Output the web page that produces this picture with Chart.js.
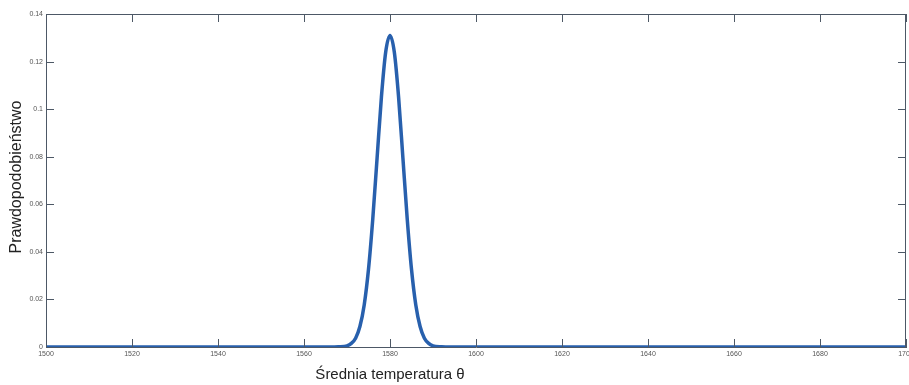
<!DOCTYPE html>
<html><head><meta charset="utf-8">
<script src="https://cdn.jsdelivr.net/npm/chart.js@4/dist/chart.umd.min.js"></script>
<style>html,body{margin:0;padding:0;background:#fff}#wrap{width:909px;height:385px}</style>
</head><body><div id="wrap"><canvas id="c" width="909" height="385"></canvas></div>
<script>
const temperatures = [1500,1520,1540,1560,1566,1568,1570,1571,1572,1573,1574,1575,1576,1577,1578,1579,1580,1581,1582,1583,1584,1585,1586,1587,1588,1589,1590,1592,1594,1600,1620,1640,1660,1680,1700];
const probabilities = [0,0,0,0,0,0.0001,0.0005,0.0015,0.0037,0.0086,0.0177,0.0327,0.054,0.0795,0.105,0.124,0.131,0.124,0.105,0.0795,0.054,0.0327,0.0177,0.0086,0.0037,0.0015,0.0005,0.0001,0,0,0,0,0,0,0];
const xTickValues = [1500,1520,1540,1560,1580,1600,1620,1640,1660,1680,1700];
const yTickValues = [0,0.02,0.04,0.06,0.08,0.1,0.12,0.14];
const xTitle = 'Średnia temperatura θ';
const yTitle = 'Prawdopodobieństwo';

const axisColor = '#4d5866';
const boxPlugin = {
  id: 'box',
  afterDraw(chart) {
    const ctx = chart.ctx, a = chart.chartArea;
    const xs = chart.scales.x, ys = chart.scales.y;
    ctx.save();
    ctx.strokeStyle = axisColor; ctx.lineWidth = 1;
    ctx.beginPath();
    ctx.moveTo(a.left, a.top + 0.5); ctx.lineTo(a.right, a.top + 0.5);
    ctx.moveTo(a.right - 0.5, a.top); ctx.lineTo(a.right - 0.5, a.bottom);
    const L = 8;
    xTickValues.forEach(v => {
      const p = Math.round(xs.getPixelForValue(v)) + 0.5;
      ctx.moveTo(p, a.bottom); ctx.lineTo(p, a.bottom - L);
      ctx.moveTo(p, a.top); ctx.lineTo(p, a.top + L);
    });
    yTickValues.forEach(v => {
      const p = Math.round(ys.getPixelForValue(v)) + 0.5;
      ctx.moveTo(a.left, p); ctx.lineTo(a.left + L, p);
      ctx.moveTo(a.right, p); ctx.lineTo(a.right - L, p);
    });
    ctx.stroke();
    ctx.fillStyle = '#222';
    ctx.font = '15px "Liberation Sans", Arial, sans-serif';
    ctx.textAlign = 'center'; ctx.textBaseline = 'middle';
    ctx.fillText(xTitle, 390, 375);
    ctx.translate(17, 177);
    ctx.rotate(-Math.PI / 2);
    ctx.font = '16px "Liberation Sans", Arial, sans-serif';
    ctx.fillText(yTitle, 0, 0);
    ctx.restore();
  }
};

new Chart(document.getElementById('c'), {
  type: 'line',
  data: {
    datasets: [{
      data: temperatures.map((t, i) => ({ x: t, y: probabilities[i] })),
      borderColor: '#2860ad',
      borderWidth: 3.5,
      pointRadius: 0,
      cubicInterpolationMode: 'monotone',
      fill: false
    }]
  },
  options: {
    responsive: false,
    animation: false,
    devicePixelRatio: 1,
    layout: { padding: { left: 0, top: 14, right: 3, bottom: 0 } },
    plugins: { legend: { display: false }, tooltip: { enabled: false } },
    scales: {
      x: {
        type: 'linear', min: 1500, max: 1700,
        afterBuildTicks: s => { s.ticks = xTickValues.map(v => ({ value: v })); },
        afterFit: s => { s.height = 38; s.paddingLeft = 0; s.paddingRight = 0; },
        grid: { display: false, drawTicks: false },
        border: { color: axisColor, width: 1 },
        ticks: { font: { size: 7, family: '"Liberation Sans", Arial' }, color: '#555', padding: 3, maxRotation: 0, autoSkip: false, callback: v => String(v) }
      },
      y: {
        type: 'linear', min: 0, max: 0.14,
        afterBuildTicks: s => { s.ticks = yTickValues.map(v => ({ value: v })); },
        afterFit: s => { s.width = 46; s.paddingTop = 0; s.paddingBottom = 0; },
        grid: { display: false, drawTicks: false },
        border: { color: axisColor, width: 1 },
        ticks: { font: { size: 7, family: '"Liberation Sans", Arial' }, color: '#555', padding: 3, autoSkip: false, callback: v => v === 0 ? '0' : String(+v.toFixed(2)) }
      }
    }
  },
  plugins: [boxPlugin]
});
</script></body></html>
